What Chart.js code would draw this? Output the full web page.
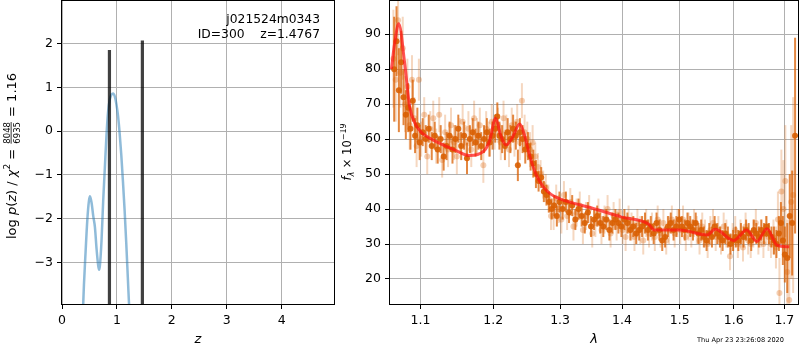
<!DOCTYPE html>
<html>
<head>
<meta charset="utf-8">
<script src="https://cdn.jsdelivr.net/npm/chart.js@4.4.1/dist/chart.umd.min.js"></script>
<style>
  body { margin: 0; background: #fff; }
  #wrap { position: relative; width: 800px; height: 350px; }
  #pzBox { position: absolute; left: 0; top: 0; width: 340px; height: 350px; }
  #specBox { position: absolute; left: 340px; top: 0; width: 460px; height: 350px; }
</style>
</head>
<body>
<div id="wrap">
  <div id="pzBox"><canvas id="pzChart" width="340" height="350"></canvas></div>
  <div id="specBox"><canvas id="specChart" width="460" height="350"></canvas></div>
</div>
<script>
// ---- left panel: log p(z) ----
const zTicks = [0, 1, 2, 3, 4];
const pzTicks = [-3, -2, -1, 0, 1, 2];
const pzZ = [0.37, 0.40, 0.43, 0.46, 0.49, 0.51, 0.54, 0.57, 0.60, 0.63, 0.66, 0.675, 0.69, 0.72, 0.75, 0.78, 0.81, 0.84, 0.87, 0.90, 0.93, 0.96, 0.99, 1.02, 1.05, 1.08, 1.11, 1.14, 1.17, 1.20, 1.23, 1.25];
const pzLog = [-4.5, -3.5, -2.75, -2.05, -1.6, -1.49, -1.65, -1.95, -2.2, -2.7, -3.08, -3.17, -3.08, -2.5, -1.6, -0.85, -0.1, 0.45, 0.72, 0.83, 0.86, 0.8, 0.62, 0.35, -0.05, -0.55, -1.15, -1.8, -2.55, -3.38, -4.2, -4.6];
const spikeZ = [0.864, 1.464];
const spikeTop = [1.85, 2.07];

// ---- right panel: spectrum ----
const lamTicks = [1.1, 1.2, 1.3, 1.4, 1.5, 1.6, 1.7];
const fluxTicks = [20, 30, 40, 50, 60, 70, 80, 90];

const waveA = [1.066, 1.069, 1.072, 1.075, 1.078, 1.081, 1.084, 1.087, 1.090, 1.093, 1.096, 1.099, 1.103, 1.107, 1.111, 1.115, 1.119, 1.123, 1.127, 1.131, 1.135, 1.139, 1.143, 1.147, 1.151, 1.155, 1.159, 1.163, 1.167, 1.171, 1.175, 1.179, 1.183, 1.187, 1.191, 1.195, 1.199, 1.203, 1.206, 1.209, 1.213, 1.217, 1.221, 1.225, 1.229, 1.233, 1.236, 1.239, 1.243, 1.247, 1.251, 1.255, 1.259, 1.263, 1.267, 1.271, 1.275, 1.279, 1.283, 1.287, 1.291, 1.295, 1.299, 1.304, 1.309, 1.314, 1.319, 1.324, 1.329, 1.334, 1.339, 1.344, 1.349, 1.354, 1.359, 1.364, 1.369, 1.374, 1.379, 1.384, 1.389, 1.394, 1.399, 1.404, 1.409, 1.414, 1.419, 1.424, 1.429, 1.434, 1.439, 1.444, 1.449, 1.454, 1.459, 1.464, 1.469, 1.474, 1.479, 1.484, 1.489, 1.494, 1.499, 1.504, 1.509, 1.514, 1.519, 1.524, 1.529, 1.534, 1.539, 1.544, 1.549, 1.554, 1.559, 1.564, 1.569, 1.574, 1.579, 1.584, 1.589, 1.594, 1.599, 1.604, 1.609, 1.614, 1.619, 1.624, 1.629, 1.634, 1.639, 1.644, 1.649, 1.654, 1.659, 1.664, 1.669, 1.674, 1.679, 1.684, 1.689, 1.693, 1.697, 1.701, 1.706, 1.711, 1.716, 1.722];
const fluxA = [80, 88, 74, 82, 72, 67, 69, 63, 71, 61, 64, 59, 62, 60, 63, 58, 61, 57, 60, 55, 58, 61, 57, 60, 63, 58, 61, 54.5, 60, 62, 59, 61, 58, 60, 62, 59, 61, 63, 66.5, 61, 60, 58, 62, 60, 63, 61, 52.5, 62, 60, 57, 58, 55, 53, 50, 48, 49, 45, 44, 42, 40, 41, 38, 42, 40, 42, 39, 41, 37, 40, 38, 36, 39, 35, 37, 38, 36, 35, 37, 34, 36, 37, 36, 35, 37, 36, 34, 35, 33, 34, 35, 36, 34, 35, 33, 36, 34, 31, 32, 35, 36, 34, 35, 37, 35, 34, 36, 35, 34, 36, 33, 34, 32, 31, 33, 32, 35, 33, 32, 31, 33, 32, 30, 31, 32, 31, 33, 32, 34, 33, 31, 34, 33, 32, 34, 33, 35, 33, 32, 31, 30, 33, 36, 31, 27, 26, 38, 36, 61];
const errA = [15, 10, 12, 9, 8, 7, 7, 6, 6, 5, 5, 5, 4, 4, 4, 4, 4, 4, 4, 4, 4, 4, 4, 4, 4, 4, 4, 4.5, 4, 4, 4, 4, 4, 4, 4, 4, 4, 4, 4, 4, 4, 4, 4, 4, 4, 4, 4.5, 4, 4, 4, 4, 4, 4, 4, 3, 3, 3, 3, 3, 3, 3, 3, 3, 3, 3, 3, 3, 3, 3, 3, 3, 3, 3, 3, 3, 3, 3, 3, 3, 3, 3, 3, 3, 3, 3, 3, 3, 3, 3, 3, 3, 3, 3, 3, 3, 3, 3, 3, 3, 3, 3, 3, 3, 3, 3, 3, 3, 3, 3, 3, 3, 3, 3, 3, 3, 3, 3, 3, 3, 3, 3, 3, 3, 3, 3, 3, 3, 3, 3, 3, 3, 3, 3, 3, 3, 3, 3, 3, 4, 4, 5, 6, 7, 8, 10, 12, 15, 28];

const waveB = [1.065, 1.068, 1.071, 1.074, 1.077, 1.080, 1.083, 1.086, 1.089, 1.092, 1.095, 1.098, 1.101, 1.105, 1.109, 1.113, 1.117, 1.121, 1.125, 1.129, 1.133, 1.137, 1.141, 1.145, 1.149, 1.153, 1.157, 1.161, 1.165, 1.169, 1.173, 1.177, 1.181, 1.186, 1.190, 1.194, 1.198, 1.202, 1.207, 1.211, 1.215, 1.219, 1.223, 1.227, 1.231, 1.235, 1.239, 1.242, 1.246, 1.250, 1.254, 1.258, 1.262, 1.266, 1.270, 1.274, 1.278, 1.282, 1.286, 1.290, 1.294, 1.298, 1.302, 1.306, 1.311, 1.316, 1.321, 1.326, 1.331, 1.336, 1.341, 1.346, 1.351, 1.356, 1.361, 1.366, 1.371, 1.376, 1.381, 1.386, 1.391, 1.396, 1.401, 1.406, 1.411, 1.416, 1.421, 1.426, 1.431, 1.436, 1.441, 1.446, 1.451, 1.456, 1.461, 1.466, 1.471, 1.476, 1.481, 1.486, 1.491, 1.496, 1.501, 1.506, 1.511, 1.516, 1.521, 1.526, 1.531, 1.536, 1.541, 1.546, 1.551, 1.556, 1.561, 1.566, 1.571, 1.576, 1.581, 1.586, 1.593, 1.598, 1.603, 1.608, 1.613, 1.618, 1.623, 1.628, 1.633, 1.638, 1.643, 1.648, 1.653, 1.658, 1.663, 1.668, 1.673, 1.678, 1.683, 1.687, 1.690, 1.694, 1.698, 1.702, 1.706, 1.710, 1.714, 1.718];
const fluxB = [83, 77, 94, 79, 86, 70, 75, 64, 77, 66, 58, 77, 60, 67, 55, 63, 66, 58, 67, 54, 62, 57, 64, 59, 55, 61, 65, 59, 63, 57, 66, 61, 64, 52.5, 63, 60, 65, 62, 64, 59, 66, 62, 57, 64, 60, 65, 59, 71, 62, 60, 57, 59, 55, 52, 50, 47, 46, 43, 38, 38, 43, 40, 37, 44, 38, 42, 35, 39, 41, 34, 38, 40, 33, 36, 39, 34, 37, 40, 33, 38, 35, 39, 34, 32, 37, 35, 32, 36, 34, 31, 36, 33, 35, 32, 37, 33, 36, 31, 34, 37, 33, 36, 34, 37, 32, 35, 33, 36, 34, 31, 35, 33, 30, 34, 36, 32, 34, 31, 35, 33, 26.5, 32, 34, 30, 33, 29, 35, 31, 30, 33, 36, 31, 33, 30, 34, 32, 30, 32, 29, 37, 16, 45, 40, 48, 22, 14, 42, 44];
const errB = [14, 12, 10, 10, 9, 8, 8, 7, 7, 6, 6, 6, 5, 5, 5, 5, 5, 5, 5, 5, 5, 5, 5, 5, 5, 5, 5, 5, 5, 5, 5, 5, 5, 5, 5, 5, 5, 5, 5, 5, 5, 5, 5, 5, 5, 5, 5, 5, 5, 5, 5, 5, 4, 4, 4, 4, 4, 4, 4, 4, 4, 4, 4, 4, 4, 4, 4, 4, 4, 4, 4, 4, 4, 4, 4, 4, 4, 4, 4, 4, 4, 4, 4, 4, 4, 4, 4, 4, 4, 4, 4, 4, 4, 4, 4, 4, 4, 4, 4, 4, 4, 4, 4, 4, 4, 4, 4, 4, 4, 4, 4, 4, 4, 4, 4, 4, 4, 4, 4, 4, 4, 4, 4, 4, 4, 4, 4, 4, 4, 4, 4, 4, 4, 4, 4, 4, 4, 5, 6, 8, 10, 12, 14, 16, 15, 16, 22, 28];

const modelWave = [1.0625, 1.0666, 1.0718, 1.0795, 1.0859, 1.093, 1.1, 1.112, 1.1258, 1.145, 1.1668, 1.1857, 1.195, 1.2035, 1.211, 1.2185, 1.228, 1.2387, 1.246, 1.254, 1.263, 1.2738, 1.286, 1.3, 1.35, 1.4, 1.445, 1.455, 1.5, 1.55, 1.565, 1.6, 1.625, 1.645, 1.665, 1.685, 1.71];
const modelFlux = [80, 87.4, 93, 81.7, 69.3, 64.5, 62.2, 60.3, 58.8, 57, 55.3, 56.4, 59.5, 66, 61, 58.3, 60.5, 64.3, 61, 55, 50, 46.4, 44.2, 42.9, 40.3, 37.7, 35.7, 34, 34, 32.6, 34.2, 31, 34, 30.7, 34.4, 29.7, 29.2];

const GRID = '#b0b0b0';
const FONT = '"DejaVu Sans", sans-serif';
const ORANGE = '217, 95, 2';

Chart.defaults.font.family = FONT;
Chart.defaults.color = '#000';

function fmtTick(v) {
    return v < 0 ? '\u2212' + Math.abs(v) : String(v);
}

// draws a line of mixed text (italic, sub/superscripts, a small fraction) centred on cx, cy
function drawRich(ctx, segs, cx, cy, rotate) {
    const fontOf = s => (s.italic ? 'italic ' : '') + s.size + 'px ' + FONT;
    const widthOf = s => {
        ctx.font = fontOf(s);
        if (s.num) return Math.max(ctx.measureText(s.num).width, ctx.measureText(s.den).width) + 2;
        return ctx.measureText(s.t).width;
    };
    ctx.save();
    ctx.translate(cx, cy);
    if (rotate) ctx.rotate(-Math.PI / 2);
    ctx.fillStyle = '#000';
    ctx.textBaseline = 'alphabetic';
    const total = segs.reduce((a, s) => a + widthOf(s), 0);
    const base = 4.5;
    let x = -total / 2;
    segs.forEach(s => {
        const w = widthOf(s);
        ctx.font = fontOf(s);
        if (s.num) {
            ctx.textAlign = 'center';
            ctx.fillText(s.num, x + w / 2, base - 6);
            ctx.fillText(s.den, x + w / 2, base + 4);
            ctx.fillRect(x + 1, base - 4.8, w - 2, 0.8);
        } else {
            ctx.textAlign = 'left';
            ctx.fillText(s.t, x, base + (s.dy || 0));
        }
        x += w;
    });
    ctx.restore();
}

function frame(ctx, a) {
    ctx.save();
    ctx.strokeStyle = '#000';
    ctx.lineWidth = 1;
    ctx.strokeRect(a.left - 0.5, a.top - 0.5, a.right - a.left + 1, a.bottom - a.top + 1);
    ctx.restore();
}

// fixed axis box sizes, no extra padding for edge labels
function fixBox(size) {
    return s => {
        if (s.isHorizontal()) s.height = size; else s.width = size;
        s.paddingTop = 0; s.paddingBottom = 0; s.paddingLeft = 0; s.paddingRight = 0;
    };
}

const errorBars = {
    id: 'errorBars',
    beforeDatasetDraw(chart, args) {
        const ds = chart.data.datasets[args.index];
        if (!ds.errors) return;
        const { ctx, chartArea } = chart;
        const xs = chart.scales.x, ys = chart.scales.y;
        ctx.save();
        ctx.beginPath();
        ctx.rect(chartArea.left, chartArea.top, chartArea.width, chartArea.height);
        ctx.clip();
        ctx.strokeStyle = ds.errorColor;
        ctx.lineWidth = 2;
        ds.data.forEach((p, i) => {
            const px = xs.getPixelForValue(p.x);
            ctx.beginPath();
            ctx.moveTo(px, ys.getPixelForValue(p.y - ds.errors[i]));
            ctx.lineTo(px, ys.getPixelForValue(p.y + ds.errors[i]));
            ctx.stroke();
        });
        ctx.restore();
    }
};

const pzDecor = {
    id: 'pzDecor',
    afterDraw(chart) {
        const { ctx, chartArea } = chart;
        frame(ctx, chartArea);
        ctx.save();
        ctx.fillStyle = '#000';
        ctx.font = '12.3px ' + FONT;
        ctx.textAlign = 'right';
        ctx.textBaseline = 'middle';
        ctx.fillText('j021524m0343', 320, 20);
        ctx.fillText('ID=300    z=1.4767', 320, 34.5);
        ctx.font = 'italic 13px ' + FONT;
        ctx.textAlign = 'center';
        ctx.fillText('z', (chartArea.left + chartArea.right) / 2, 340);
        ctx.restore();
        drawRich(ctx, [
            { t: 'log ', size: 13 },
            { t: 'p', size: 13, italic: true },
            { t: '(', size: 13 },
            { t: 'z', size: 13, italic: true },
            { t: ') / ', size: 13 },
            { t: '\u03c7', size: 13, italic: true },
            { t: '2', size: 9, dy: -5.5 },
            { t: ' = ', size: 13 },
            { num: '8048', den: '6935', size: 8.5 },
            { t: ' = 1.16', size: 13 }
        ], 11, 156, true);
    }
};

const specDecor = {
    id: 'specDecor',
    afterDraw(chart) {
        const { ctx, chartArea } = chart;
        frame(ctx, chartArea);
        ctx.save();
        ctx.fillStyle = '#000';
        ctx.font = 'italic 13px ' + FONT;
        ctx.textAlign = 'center';
        ctx.textBaseline = 'middle';
        ctx.fillText('\u03bb', (chartArea.left + chartArea.right) / 2, 340);
        ctx.font = '6.6px ' + FONT;
        ctx.textAlign = 'left';
        ctx.fillText('Thu Apr 23 23:26:08 2020', 697 - 340, 340);
        ctx.restore();
        drawRich(ctx, [
            { t: 'f', size: 11.5, italic: true },
            { t: '\u03bb', size: 8, italic: true, dy: 3 },
            { t: ' \u00d7 10', size: 11.5 },
            { t: '\u221219', size: 8, dy: -5 }
        ], 6, 152, true);
    }
};

function gridOpts() {
    return { color: GRID, lineWidth: 1, tickColor: '#000', tickLength: 5, tickWidth: 1 };
}

new Chart(document.getElementById('pzChart').getContext('2d'), {
    type: 'scatter',
    data: {
        datasets: [
            ...spikeZ.map((z, i) => ({
                data: [{ x: z, y: -3.95 }, { x: z, y: spikeTop[i] }],
                showLine: true,
                borderColor: 'rgba(0, 0, 0, 0.75)',
                borderWidth: 3.2,
                pointRadius: 0,
                order: 0
            })),
            {
                data: pzZ.map((z, i) => ({ x: z, y: pzLog[i] })),
                showLine: true,
                borderColor: 'rgba(31, 119, 180, 0.5)',
                borderWidth: 2.5,
                pointRadius: 0,
                cubicInterpolationMode: 'monotone',
                order: 1
            }
        ]
    },
    options: {
        responsive: false,
        animation: false,
        layout: { autoPadding: false, padding: { top: 1, right: 6, left: 0, bottom: 0 } },
        plugins: { legend: { display: false }, tooltip: { enabled: false } },
        scales: {
            x: {
                type: 'linear',
                min: 0,
                max: 4.954,
                grid: gridOpts(),
                border: { display: false },
                afterBuildTicks: s => { s.ticks = zTicks.map(v => ({ value: v })); },
                afterFit: fixBox(46),
                ticks: { font: { size: 12.5 }, padding: 4, maxRotation: 0, callback: fmtTick }
            },
            y: {
                type: 'linear',
                min: -3.95,
                max: 2.97,
                grid: gridOpts(),
                border: { display: false },
                afterBuildTicks: s => { s.ticks = pzTicks.map(v => ({ value: v })); },
                afterFit: fixBox(62),
                ticks: { font: { size: 12.5 }, padding: 4, callback: fmtTick }
            }
        }
    },
    plugins: [pzDecor]
});

new Chart(document.getElementById('specChart').getContext('2d'), {
    type: 'scatter',
    data: {
        datasets: [
            {
                data: modelWave.map((w, i) => ({ x: w, y: modelFlux[i] })),
                showLine: true,
                borderColor: 'rgba(255, 20, 20, 0.72)',
                borderWidth: 3,
                pointRadius: 0,
                tension: 0.4,
                cubicInterpolationMode: 'monotone',
                order: 0
            },
            {
                data: waveA.map((w, i) => ({ x: w, y: fluxA[i] })),
                errors: errA,
                errorColor: `rgba(${ORANGE}, 0.75)`,
                backgroundColor: `rgba(${ORANGE}, 0.9)`,
                borderWidth: 0,
                pointRadius: 3,
                order: 1
            },
            {
                data: waveB.map((w, i) => ({ x: w, y: fluxB[i] })),
                errors: errB,
                errorColor: `rgba(${ORANGE}, 0.25)`,
                backgroundColor: `rgba(${ORANGE}, 0.3)`,
                borderWidth: 0,
                pointRadius: 3,
                order: 2
            }
        ]
    },
    options: {
        responsive: false,
        animation: false,
        layout: { autoPadding: false, padding: { top: 1, right: 2, left: 0, bottom: 0 } },
        plugins: { legend: { display: false }, tooltip: { enabled: false } },
        scales: {
            x: {
                type: 'logarithmic',
                min: 1.0607,
                max: 1.728,
                grid: gridOpts(),
                border: { display: false },
                afterBuildTicks: s => { s.ticks = lamTicks.map(v => ({ value: v })); },
                afterFit: fixBox(46),
                ticks: { font: { size: 12.5 }, padding: 4, maxRotation: 0, autoSkip: false, callback: v => Number(v).toFixed(1) }
            },
            y: {
                type: 'linear',
                min: 12.85,
                max: 99.5,
                grid: gridOpts(),
                border: { display: false },
                afterBuildTicks: s => { s.ticks = fluxTicks.map(v => ({ value: v })); },
                afterFit: fixBox(50),
                ticks: { font: { size: 12.5 }, padding: 4, callback: fmtTick }
            }
        }
    },
    plugins: [errorBars, specDecor]
});
</script>
</body>
</html>
